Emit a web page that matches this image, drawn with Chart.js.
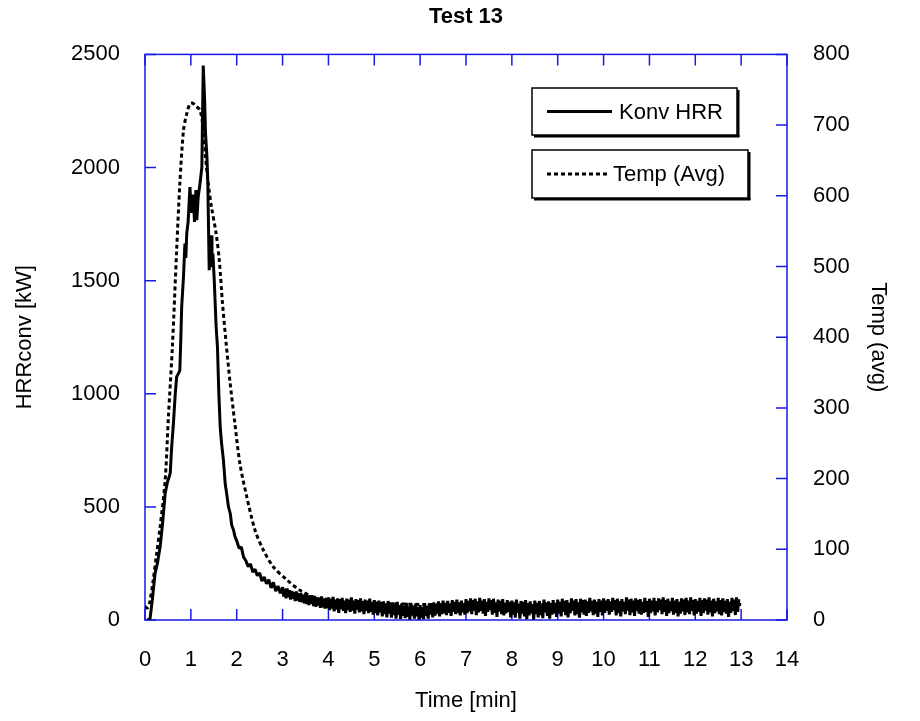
<!DOCTYPE html>
<html lang="en">
<head>
<meta charset="UTF-8">
<title>Test 13</title>
<script src="https://cdn.jsdelivr.net/npm/chart.js"></script>
<style>
  body { margin: 0; background: #fff; }
  #chart { display: block; }
</style>
</head>
<body>
<canvas id="chart" width="920" height="721"></canvas>
<script>
  // HRR (kW) during the fire
  const hrrTimes = [0.05, 0.11, 0.16, 0.22, 0.27, 0.33, 0.38, 0.44, 0.49, 0.55, 0.58, 0.62, 0.66, 0.69, 0.73, 0.76,
    0.78, 0.80, 0.84, 0.87, 0.89, 0.91, 0.94, 0.98, 1.01, 1.05, 1.08, 1.11, 1.13, 1.16, 1.20, 1.24, 1.27, 1.30,
    1.32, 1.35, 1.37, 1.40, 1.44, 1.46, 1.48, 1.51, 1.55, 1.58, 1.61, 1.64, 1.67, 1.71, 1.75, 1.78, 1.82, 1.86,
    1.89, 1.93, 1.96, 2.00, 2.05, 2.10, 2.15, 2.20, 2.25, 2.30, 2.35, 2.40, 2.45, 2.50, 2.55, 2.60, 2.65, 2.70,
    2.75, 2.80, 2.85, 2.90, 2.95];
  const hrrValues = [0, 5, 90, 206, 250, 324, 420, 560, 610, 648, 760, 869, 1000, 1075, 1090, 1104,
    1237, 1384, 1520, 1664, 1600, 1708, 1760, 1914, 1800, 1880, 1760, 1900, 1767, 1870, 1930, 2002, 2451, 2300,
    2150, 2050, 1930, 1546, 1700, 1560, 1620, 1502, 1300, 1207, 1000, 854, 780, 707, 600, 560, 500, 470,
    420, 398, 370, 350, 318, 322, 278, 262, 236, 248, 212, 224, 196, 208, 172, 190, 160, 178,
    142, 166, 128, 150, 118];

  // noisy tail, one reading every 0.025 min from 3.0 min (one row per minute)
  const tailStart = 3.0;
  const tailStep = 0.025;
  const hrrTail = [
    145, 104, 138, 96, 140, 100, 132, 90, 128, 94, 124, 84, 126, 86, 118, 80, 120, 78, 112, 74, 116, 70, 108, 66, 110, 72, 102, 62, 106, 58, 100, 64, 98, 54, 104, 56, 94, 50, 98, 52,
    100, 44, 94, 50, 102, 38, 88, 46, 96, 32, 92, 48, 98, 40, 86, 30, 94, 44, 90, 36, 100, 42, 84, 28, 92, 46, 88, 34, 96, 38, 82, 26, 90, 40, 86, 30, 94, 36, 80, 24,
    88, 30, 80, 20, 86, 34, 76, 16, 82, 26, 74, 12, 84, 28, 70, 10, 78, 22, 68, 6, 80, 24, 66, 4, 74, 18, 62, 8, 76, 14, 60, 2, 70, 20, 64, 6, 72, 16, 58, 2,
    66, 10, 58, 4, 70, 18, 62, 6, 74, 24, 66, 12, 78, 20, 70, 28, 82, 16, 74, 26, 86, 30, 76, 22, 84, 32, 72, 18, 88, 36, 80, 26, 90, 30, 78, 20, 86, 34, 74, 24,
    92, 30, 84, 38, 96, 26, 88, 42, 94, 22, 82, 34, 98, 40, 86, 28, 92, 18, 80, 36, 96, 44, 88, 24, 94, 32, 78, 14, 90, 38, 84, 26, 92, 20, 76, 30, 88, 36, 80, 12,
    86, 24, 78, 10, 90, 32, 72, 6, 84, 28, 80, 16, 88, 4, 74, 20, 82, 30, 70, 2, 86, 26, 76, 12, 84, 22, 68, 8, 90, 34, 78, 18, 82, 6, 72, 24, 88, 30, 76, 14,
    90, 28, 80, 16, 94, 36, 84, 22, 88, 12, 76, 30, 96, 40, 86, 20, 92, 26, 78, 10, 94, 34, 88, 24, 90, 18, 82, 32, 98, 38, 84, 22, 90, 28, 80, 14, 92, 36, 86, 20,
    96, 32, 86, 40, 92, 24, 82, 36, 98, 44, 88, 20, 94, 30, 84, 16, 92, 38, 80, 26, 100, 42, 90, 22, 94, 34, 86, 18, 96, 40, 88, 28, 92, 24, 80, 32, 98, 36, 84, 14,
    94, 30, 86, 38, 98, 20, 84, 34, 96, 44, 90, 26, 100, 36, 88, 18, 94, 30, 82, 40, 98, 24, 86, 32, 92, 16, 80, 28, 96, 38, 90, 22, 98, 34, 86, 26, 100, 40, 88, 20,
    92, 28, 84, 36, 98, 18, 88, 30, 96, 42, 90, 24, 100, 34, 86, 16, 94, 30, 82, 38, 98, 26, 88, 20, 96, 36, 84, 28, 92, 14, 80, 32, 98, 40, 90, 22, 100, 36, 92
  ];

  // average temperature (right axis)
  const tempTimes = [0, 0.05, 0.1, 0.18, 0.25, 0.33, 0.44, 0.51, 0.6, 0.69, 0.76, 0.84, 0.91, 0.98, 1.04, 1.09,
    1.2, 1.27, 1.32, 1.38, 1.45, 1.55, 1.62, 1.69, 1.77, 1.85, 1.96, 2.07, 2.22, 2.4, 2.58, 2.8, 3.09, 3.38,
    3.74, 4.2, 5, 6, 7, 8, 9, 10, 11, 12, 13];
  const tempValues = [19, 17, 24, 57, 92, 132, 198, 287, 390, 523, 617, 693, 716, 730, 731, 728,
    721, 693, 655, 617, 584, 547, 509, 448, 391, 339, 278, 221, 174, 127, 99, 75, 57, 42,
    31, 27, 24, 22, 22, 22, 22, 22, 22, 22, 22];

  const axisBlue = '#1a1ae6';
  const legendBoxes = [
    { x: 532, y: 88, w: 205, h: 47 },
    { x: 532, y: 150, w: 216, h: 48 }
  ];
  const fontFamily = "'Liberation Sans', Arial, sans-serif";

  const hrrPoints = hrrTimes.map((t, i) => ({ x: t, y: hrrValues[i] }));
  hrrTail.forEach((v, i) => hrrPoints.push({ x: tailStart + i * tailStep, y: v }));
  const tempPoints = tempTimes.map((t, i) => ({ x: t, y: tempValues[i] }));

  // blue box round the plot, with ticks pointing inwards
  const frameTicks = {
    id: 'frameTicks',
    beforeDatasetsDraw(chart) {
      const { ctx, chartArea: a, scales } = chart;
      const len = 11;
      ctx.save();
      ctx.strokeStyle = axisBlue;
      ctx.lineWidth = 1.5;
      ctx.strokeRect(a.left, a.top, a.right - a.left, a.bottom - a.top);
      ctx.beginPath();
      scales.x.ticks.forEach(t => {
        const px = scales.x.getPixelForValue(t.value);
        ctx.moveTo(px, a.bottom); ctx.lineTo(px, a.bottom - len);
        ctx.moveTo(px, a.top); ctx.lineTo(px, a.top + len);
      });
      scales.y.ticks.forEach(t => {
        const py = scales.y.getPixelForValue(t.value);
        ctx.moveTo(a.left, py); ctx.lineTo(a.left + len, py);
      });
      scales.y1.ticks.forEach(t => {
        const py = scales.y1.getPixelForValue(t.value);
        ctx.moveTo(a.right, py); ctx.lineTo(a.right - len, py);
      });
      ctx.stroke();
      ctx.restore();
    }
  };

  // one framed box per series, like the original
  const boxLegend = {
    id: 'boxLegend',
    afterDraw(chart) {
      const ctx = chart.ctx;
      ctx.save();
      legendBoxes.forEach((b, i) => {
        const ds = chart.data.datasets[i];
        ctx.fillStyle = '#fff';
        ctx.fillRect(b.x, b.y, b.w, b.h);
        ctx.strokeStyle = '#000';
        ctx.lineWidth = 1.5;
        ctx.setLineDash([]);
        ctx.strokeRect(b.x, b.y, b.w, b.h);
        ctx.fillStyle = '#000';
        ctx.fillRect(b.x + b.w, b.y + 2, 2.5, b.h);
        ctx.fillRect(b.x + 2, b.y + b.h, b.w + 0.5, 2.5);
        const my = b.y + b.h / 2;
        ctx.lineWidth = 3;
        ctx.setLineDash(ds.borderDash || []);
        ctx.beginPath();
        ctx.moveTo(b.x + 15, my);
        ctx.lineTo(b.x + (ds.borderDash ? 75 : 80), my);
        ctx.stroke();
        ctx.setLineDash([]);
        ctx.font = '22px ' + fontFamily;
        ctx.textBaseline = 'middle';
        ctx.fillText(ds.label, b.x + (ds.borderDash ? 81 : 87), my + 1);
      });
      ctx.restore();
    }
  };

  Chart.defaults.font.family = fontFamily;
  Chart.defaults.font.size = 22;
  Chart.defaults.color = '#000';

  const ctx = document.getElementById('chart').getContext('2d');
  new Chart(ctx, {
    type: 'line',
    data: {
      datasets: [
        {
          label: 'Konv HRR',
          data: hrrPoints,
          yAxisID: 'y',
          borderColor: '#000',
          borderWidth: 3,
          borderJoinStyle: 'bevel',
          pointRadius: 0,
          tension: 0
        },
        {
          label: 'Temp (Avg)',
          data: tempPoints,
          yAxisID: 'y1',
          borderColor: '#000',
          borderWidth: 3,
          borderDash: [4, 3],
          pointRadius: 0,
          tension: 0.3
        }
      ]
    },
    options: {
      responsive: false,
      animation: false,
      layout: { padding: 0 },
      plugins: {
        legend: { display: false },
        tooltip: { enabled: false },
        title: {
          display: true,
          fullSize: false,
          text: 'Test 13',
          color: '#000',
          font: { size: 22, weight: 'bold' },
          padding: { top: 4, bottom: 24 }
        }
      },
      scales: {
        x: {
          type: 'linear',
          min: 0,
          max: 14,
          ticks: { stepSize: 1, padding: 19, maxRotation: 0 },
          grid: { display: false },
          border: { display: false },
          title: { display: true, text: 'Time [min]', padding: { top: 0, bottom: 7 } },
          afterFit(s) { s.height = 101; }
        },
        y: {
          min: 0,
          max: 2500,
          ticks: { stepSize: 500, padding: 17, format: { useGrouping: false } },
          grid: { display: false },
          border: { display: false },
          title: { display: true, text: 'HRRconv [kW]', padding: { top: 12, bottom: 0 } },
          afterFit(s) { s.width = 145; }
        },
        y1: {
          position: 'right',
          min: 0,
          max: 800,
          ticks: { stepSize: 100, padding: 18, format: { useGrouping: false } },
          grid: { display: false },
          border: { display: false },
          title: { display: true, text: 'Temp (avg)', padding: { top: 29, bottom: 0 } },
          afterFit(s) { s.width = 133; }
        }
      }
    },
    plugins: [frameTicks, boxLegend]
  });
</script>
</body>
</html>
